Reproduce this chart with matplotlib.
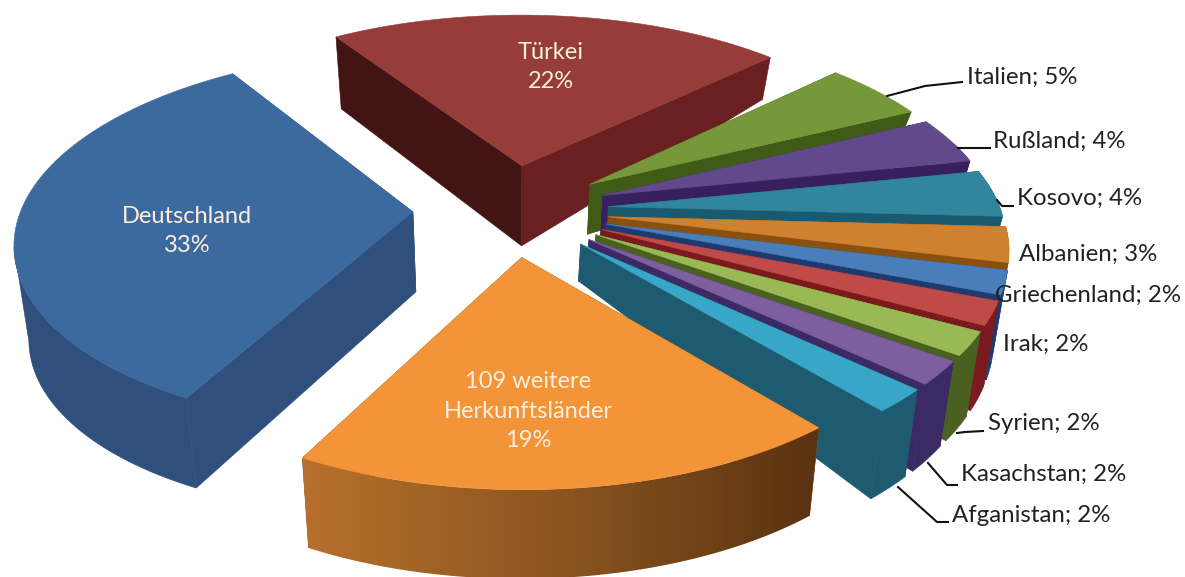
import matplotlib
matplotlib.use("Agg")
import matplotlib.pyplot as plt
import numpy as np
from matplotlib.patches import Polygon
from matplotlib.colors import to_rgb, LinearSegmentedColormap

# clockwise from the back
names = ["Türkei", "Italien", "Rußland", "Kosovo", "Albanien", "Griechenland", "Irak",
         "Syrien", "Kasachstan", "Afganistan", "109 weitere\nHerkunftsländer", "Deutschland"]
shares = [22, 5, 4, 4, 3, 2, 2, 2, 2, 2, 19, 33]

top_colors = ["#963c39", "#76973a", "#604a8c", "#31859d", "#d0812f", "#4a7ebb", "#be4b48",
              "#98b954", "#7d5fa0", "#38a6c6", "#f39439", "#3c6a9f"]
wall_colors = ["#6a2020", "#3f5b16", "#38205f", "#1a5a6e", "#8a5010", "#1f3a6f", "#7a1a1f",
               "#4a6021", "#3c2a65", "#1e5a70", "#8a5520", "#2f4f7c"]

# wall height in pixels: at the tip, at the rim start, at the rim end
wall_tip = [80, 50, 50, 45, 45, 45, 45, 42, 40, 37, 60, 80]
wall_a = [72, 30, 40, 45, 55, 85, 85, 85, 85, 87, 88, 90]
wall_b = [42, 30, 45, 50, 75, 85, 85, 85, 87, 88, 90, 100]

# projection
CX, CY = 511, 210
RX, RY = 392, 184
K = 0.143
EXPLODE = 0.25
START = -33

orange_side = LinearSegmentedColormap.from_list("side", ["#b8702c", "#8a5520", "#5a3210"])


def project(u, v):
    s = 1 / (1 + K * v)
    return CX + RX * u * s, CY - RY * v * s


def drop(x, y, h):
    # bottom edge of a wall, verticals lean in a little
    return CX + (x - CX) * 0.97, y + h


def flat(ax, pts, color, z):
    ax.add_patch(Polygon(pts, closed=True, fc=color, ec=color, lw=0.4, zorder=z))


def shade(color, f):
    return tuple(c * f for c in to_rgb(color))


def draw_slice(ax, i, a0, a1, z):
    mid = np.radians((a0 + a1) / 2)
    ou, ov = EXPLODE * np.sin(mid), EXPLODE * np.cos(mid)
    ang = np.radians(np.linspace(a0, a1, 80))
    xs, ys = project(ou + np.sin(ang), ov + np.cos(ang))
    tx, ty = project(ou, ov)
    wall = wall_colors[i]

    # straight walls first
    for px, py, h, col in [(xs[0], ys[0], wall_a[i], shade(wall, 0.62) if i == 0 else wall),
                           (xs[-1], ys[-1], wall_b[i], wall)]:
        flat(ax, [(tx, ty), (px, py), drop(px, py, h), drop(tx, ty, wall_tip[i])], col, z)

    # rim wall only where it faces the viewer
    hs = np.linspace(wall_a[i], wall_b[i], len(xs))
    front = np.cos(ang) < 0.3
    if i == 11:
        # stop at the leftmost point, past it the strip folds over itself
        front[np.argmin(xs) + 1:] = False
    if front.any():
        upper = list(zip(xs[front], ys[front]))
        lower = [drop(x, y, h) for x, y, h in zip(xs[front], ys[front], hs[front])]
        rim = upper + lower[::-1]
        if i == 10:
            patch = Polygon(rim, closed=True, fc="none", lw=0)
            ax.add_patch(patch)
            px = [p[0] for p in rim]
            py = [p[1] for p in rim]
            im = ax.imshow(np.linspace(0, 1, 256)[None, :], cmap=orange_side, aspect="auto",
                           extent=[min(px), max(px), max(py), min(py)], zorder=z)
            im.set_clip_path(patch)
        else:
            flat(ax, rim, wall, z)

    pts = [(tx, ty)] + list(zip(xs, ys))
    flat(ax, pts, top_colors[i], z + 0.5)


fig = plt.figure(figsize=(11.85, 5.77), dpi=100)
ax = fig.add_axes([0, 0, 1, 1])

edges = START + np.concatenate([[0], np.cumsum(shares)]) * 3.6
for i in range(len(shares)):
    draw_slice(ax, i, edges[i], edges[i + 1], i + 1)

ax.set_xlim(0, 1185)
ax.set_ylim(577, 0)
ax.axis("off")

font = "Lato"
inside = {0: (551, 67), 10: (528, 411), 11: (187, 231)}
for i, (x, y) in inside.items():
    ax.text(x, y, f"{names[i]}\n{shares[i]}%", color="#fdeee0", fontsize=17, family=font,
            ha="center", va="center", linespacing=1.5, zorder=30)

outside = {1: (967, 77), 2: (993, 141), 3: (1017, 198), 4: (1019, 254), 5: (995, 295),
           6: (1003, 344), 7: (988, 424), 8: (961, 474), 9: (952, 516)}
for i, (x, y) in outside.items():
    ax.text(x, y, f"{names[i]}; {shares[i]}%", color="#222222", fontsize=17.3, family=font,
            ha="left", va="center", zorder=30)

leaders = [[(887, 96), (925, 86), (962, 82)],
           [(958, 148), (990, 148)],
           [(997, 200), (1002, 206), (1013, 206)],
           [(957, 433), (965, 432), (983, 431)],
           [(928, 463), (947, 485), (957, 485)],
           [(898, 487), (937, 522), (948, 522)]]
for line in leaders:
    lx, ly = zip(*line)
    ax.plot(lx, ly, color="#111111", lw=1.5, zorder=29)

fig.savefig("out.png", dpi=100)
